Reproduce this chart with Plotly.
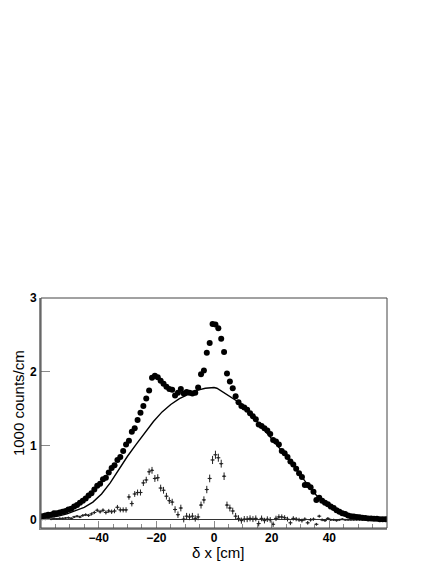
import plotly.graph_objects as go

# bin centres, 1 cm bins from -60 to 60
x_bins = [i + 0.5 for i in range(-60, 60)]

# measured distribution (filled circles), in 1000 counts/cm
data_y = [
    0.05, 0.06, 0.07, 0.07, 0.09, 0.09, 0.10, 0.11, 0.12, 0.14,
    0.15, 0.18, 0.20, 0.23, 0.26, 0.29, 0.33, 0.36, 0.41, 0.46,
    0.49, 0.55, 0.57, 0.64, 0.70, 0.74, 0.81, 0.85, 0.93, 1.02,
    1.07, 1.19, 1.24, 1.35, 1.45, 1.54, 1.64, 1.75, 1.92, 1.95,
    1.93, 1.88, 1.84, 1.80, 1.77, 1.76, 1.68, 1.72, 1.77, 1.71,
    1.73, 1.72, 1.71, 1.72, 1.79, 1.97, 2.02, 2.26, 2.39, 2.65,
    2.64, 2.59, 2.45, 2.27, 1.98, 1.87, 1.78, 1.67, 1.59, 1.54,
    1.52, 1.49, 1.44, 1.40, 1.36, 1.29, 1.27, 1.24, 1.21, 1.16,
    1.08, 1.06, 1.02, 0.93, 0.90, 0.85, 0.79, 0.75, 0.69, 0.63,
    0.58, 0.47, 0.47, 0.44, 0.38, 0.27, 0.30, 0.26, 0.23, 0.21,
    0.18, 0.16, 0.13, 0.11, 0.09, 0.08, 0.06, 0.05, 0.045, 0.04,
    0.035, 0.03, 0.025, 0.02, 0.02, 0.015, 0.015, 0.01, 0.01, 0.01,
]

# difference data - model (crosses)
diff_y = [
    0.01, 0.01, 0.02, 0.01, 0.02, 0.015, 0.02, 0.02, 0.025, 0.03,
    0.02, 0.04, 0.05, 0.04, 0.06, 0.07, 0.06, 0.08, 0.10, 0.13,
    0.11, 0.13, 0.10, 0.12, 0.11, 0.12, 0.17, 0.135, 0.135, 0.135,
    0.31, 0.22, 0.35, 0.37, 0.37, 0.50, 0.54, 0.65, 0.67, 0.56,
    0.57, 0.43, 0.40, 0.32, 0.26, 0.24, 0.14, 0.07, 0.16, 0.01,
    0.05, 0.04, 0.05, 0.02, 0.04, 0.20, 0.27, 0.41, 0.56, 0.81,
    0.88, 0.84, 0.76, 0.59, 0.20, 0.16, 0.12, 0.05, 0.02, -0.01,
    0.01, 0.01, 0.02, 0.01, 0.02, -0.05, 0.02, -0.01, 0.01, 0.00,
    -0.06, 0.02, 0.04, 0.04, 0.03, 0.01, -0.04, 0.02, 0.01, 0.00,
    -0.01, 0.01, -0.04, 0.00, 0.01, -0.06, 0.05, 0.00, -0.01, 0.02,
    0.00, 0.00, -0.01, 0.00, 0.01, 0.00, 0.00, 0.00, 0.00, 0.00,
    0.00, 0.00, 0.00, 0.00, 0.00, 0.00, 0.00, 0.00, 0.00, 0.00,
]

diff_err = [
    0.008, 0.008, 0.009, 0.009, 0.010, 0.010, 0.011, 0.011, 0.012, 0.013,
    0.013, 0.015, 0.016, 0.017, 0.018, 0.019, 0.020, 0.021, 0.022, 0.024,
    0.025, 0.026, 0.027, 0.028, 0.030, 0.031, 0.032, 0.033, 0.034, 0.036,
    0.037, 0.038, 0.039, 0.040, 0.041, 0.042, 0.043, 0.044, 0.046, 0.047,
    0.047, 0.046, 0.046, 0.045, 0.045, 0.045, 0.044, 0.044, 0.045, 0.044,
    0.044, 0.044, 0.044, 0.044, 0.045, 0.047, 0.048, 0.050, 0.052, 0.055,
    0.055, 0.054, 0.053, 0.051, 0.047, 0.046, 0.045, 0.044, 0.043, 0.042,
    0.042, 0.041, 0.041, 0.040, 0.040, 0.039, 0.039, 0.038, 0.038, 0.037,
    0.036, 0.036, 0.035, 0.034, 0.033, 0.032, 0.031, 0.030, 0.029, 0.028,
    0.027, 0.025, 0.025, 0.024, 0.022, 0.019, 0.020, 0.018, 0.017, 0.016,
    0.015, 0.014, 0.012, 0.011, 0.010, 0.010, 0.009, 0.008, 0.008, 0.007,
    0.007, 0.006, 0.006, 0.005, 0.005, 0.004, 0.004, 0.004, 0.003, 0.003,
]

# model curve (solid line)
model_x = [-60, -57, -54, -51, -48, -45, -42, -39, -36, -33, -30, -27, -24, -21,
           -18, -15, -12, -9, -6, -3, -1, 0, 1, 3, 6, 9, 12, 15, 18, 21, 24,
           27, 30, 33, 36, 39, 42, 45, 48, 51, 54, 57, 60]
model_y = [0.02, 0.03, 0.05, 0.08, 0.12, 0.17, 0.24, 0.35, 0.50, 0.68, 0.86,
           1.02, 1.18, 1.33, 1.46, 1.56, 1.64, 1.70, 1.75, 1.78, 1.79, 1.79,
           1.78, 1.73, 1.66, 1.58, 1.47, 1.33, 1.20, 1.06, 0.91, 0.76, 0.60,
           0.45, 0.31, 0.20, 0.13, 0.08, 0.05, 0.03, 0.02, 0.01, 0.01]

x_ticks = [-40, -20, 0, 20, 40]
y_ticks = [0, 1, 2, 3]

# page body has an 8px margin, so the figure is a bit smaller than the window
W, H = 428, 556
FONT = "Liberation Sans, Arial, Helvetica, sans-serif"

fig = go.Figure()

fig.add_trace(go.Scatter(
    x=x_bins, y=diff_y, mode="markers",
    marker=dict(size=2, color="#222222"),
    error_y=dict(type="data", array=diff_err, width=0, thickness=1, color="#222222"),
    error_x=dict(type="constant", value=0.7, width=0, thickness=1, color="#222222"),
    showlegend=False,
))

fig.add_trace(go.Scatter(
    x=model_x, y=model_y, mode="lines",
    line=dict(color="black", width=1.4),
    showlegend=False,
))

fig.add_trace(go.Scatter(
    x=x_bins, y=data_y, mode="markers",
    marker=dict(size=6, color="black"),
    showlegend=False,
))

fig.update_layout(
    width=W, height=H,
    autosize=False,
    margin=dict(l=33, r=49, t=290, b=36),
    paper_bgcolor="white",
    plot_bgcolor="white",
    font=dict(family=FONT, color="black"),
    xaxis=dict(
        range=[-60, 60], showgrid=False, zeroline=False,
        showline=True, linecolor="#8a8a8a", linewidth=2,
        ticks="inside", ticklen=7, tickcolor="#8a8a8a", tickwidth=1,
        tickmode="array", tickvals=x_ticks,
        minor=dict(ticks="inside", tick0=0, dtick=5, ticklen=4, tickcolor="#8a8a8a"),
        tickfont=dict(size=12, weight="bold"),
        ticklabelstandoff=-2,
    ),
    yaxis=dict(
        range=[-0.11, 3.0], showgrid=False,
        zeroline=True, zerolinecolor="#333333", zerolinewidth=1,
        showline=True, linecolor="#8a8a8a", linewidth=2,
        ticks="inside", ticklen=9, tickcolor="#8a8a8a", tickwidth=1,
        tickmode="array", tickvals=y_ticks,
        tickfont=dict(size=12, weight="bold"),
    ),
    shapes=[dict(type="rect", xref="paper", yref="paper", x0=0, x1=1, y0=0, y1=1,
                 line=dict(color="#444444", width=1))],
    annotations=[
        dict(text="δ x [cm]", xref="paper", yref="paper", x=0.5116, y=0,
             yshift=-24, xanchor="center", yanchor="middle", showarrow=False,
             font=dict(size=15)),
        dict(text="1000 counts/cm", xref="paper", yref="paper", x=0, y=0.543,
             xshift=-23, xanchor="center", yanchor="middle", showarrow=False,
             textangle=-90, font=dict(size=15)),
    ],
)

fig.write_html("out.html")
